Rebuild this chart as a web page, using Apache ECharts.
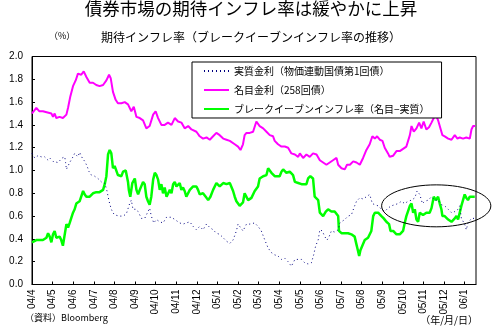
<!DOCTYPE html>
<html><head><meta charset="utf-8">
<script src="https://cdn.jsdelivr.net/npm/echarts@6/dist/echarts.min.js"></script>
<style>html,body{margin:0;padding:0;background:#fff}#c{width:502px;height:334px}</style>
</head><body><div id="c"></div>
<script>
// x = months since 2004/04/01
const monthLabels = ['04/4','04/5','04/6','04/7','04/8','04/9','04/10','04/11','04/12',
  '05/1','05/2','05/3','05/4','05/5','05/6','05/7','05/8','05/9','05/10','05/11','05/12','06/1'];
const yTicks = [0,0.2,0.4,0.6,0.8,1.0,1.2,1.4,1.6,1.8,2.0];

const seriesNames = ['実質金利（物価連動国債第1回債）','名目金利（258回債）','ブレークイーブンインフレ率（名目−実質）'];

// 名目金利 (258回債)
const nominalM = [0,0.21,0.35,0.53,0.94,1.02,1.10,1.18,1.34,1.50,
  1.67,1.75,1.86,1.99,2.12,2.23,2.39,2.51,2.64,2.80,
  2.96,3.12,3.28,3.45,3.61,3.74,3.82,3.93,4.06,4.17,
  4.34,4.50,4.66,4.82,4.94,5.07,5.23,5.39,5.55,5.71,
  5.88,6.00,6.12,6.28,6.44,6.60,6.77,6.93,7.09,7.25,
  7.41,7.58,7.74,7.98,8.14,8.30,8.47,8.63,8.79,8.95,
  9.11,9.28,9.44,9.60,9.84,10.00,10.12,10.24,10.32,10.41,
  10.57,10.73,10.89,11.05,11.22,11.38,11.54,11.70,11.78,11.94,
  12.11,12.27,12.43,12.59,12.76,12.92,13.00,13.16,13.32,13.48,
  13.64,13.81,13.97,14.13,14.29,14.45,14.61,14.78,14.86,15.02,
  15.18,15.29,15.43,15.59,15.75,15.91,16.07,16.23,16.39,16.52,
  16.64,16.75,16.88,17.01,17.12,17.28,17.36,17.53,17.69,17.85,
  18.01,18.17,18.34,18.42,18.53,18.66,18.79,18.90,19.01,19.14,
  19.27,19.39,19.50,19.60,19.71,19.79,19.92,20.03,20.20,20.36,
  20.52,20.65,20.76,20.92,21.08,21.25,21.33,21.41,21.51];
const nominal = [1.50,1.55,1.52,1.52,1.50,1.47,1.50,1.46,1.47,1.46,
  1.49,1.55,1.65,1.74,1.79,1.85,1.84,1.87,1.82,1.77,
  1.77,1.75,1.74,1.75,1.79,1.84,1.81,1.69,1.62,1.59,
  1.59,1.60,1.58,1.52,1.56,1.47,1.46,1.44,1.37,1.39,
  1.49,1.52,1.46,1.40,1.40,1.42,1.40,1.46,1.43,1.42,
  1.37,1.39,1.36,1.34,1.30,1.28,1.29,1.27,1.30,1.33,
  1.31,1.28,1.27,1.26,1.23,1.21,1.18,1.23,1.31,1.33,
  1.33,1.34,1.43,1.39,1.37,1.34,1.31,1.30,1.26,1.23,
  1.21,1.21,1.20,1.15,1.14,1.12,1.15,1.11,1.14,1.12,
  1.15,1.14,1.09,1.07,1.05,1.07,1.09,1.11,1.05,1.02,
  1.01,1.05,1.05,1.08,1.07,1.05,1.11,1.18,1.23,1.30,
  1.28,1.30,1.27,1.26,1.20,1.15,1.12,1.13,1.17,1.17,
  1.19,1.21,1.31,1.39,1.34,1.37,1.42,1.37,1.43,1.36,
  1.38,1.42,1.46,1.49,1.44,1.43,1.31,1.30,1.28,1.27,
  1.31,1.28,1.29,1.28,1.29,1.28,1.36,1.39,1.39];

// 実質金利 (物価連動国債第1回債) : [month, %]
const realPts = [[0,1.15],[0.13,1.11],[0.29,1.13],[0.45,1.12],[0.61,1.12],[0.78,1.09],[0.86,1.11],[0.94,1.12],
  [1.02,1.08],[1.26,1.07],[1.34,1.08],[1.47,1.11],[1.59,1.12],[1.63,1.07],[1.67,1.01],[1.75,1.04],[1.83,1.07],
  [1.99,1.12],[2.07,1.15],[2.23,1.12],[2.31,1.16],[2.44,1.11],[2.56,1.08],[2.67,1.04],[2.77,0.99],[2.88,0.96],
  [3.04,0.95],[3.20,0.93],[3.37,0.90],[3.53,0.89],[3.64,0.82],[3.74,0.73],[3.85,0.66],[3.93,0.63],[4.01,0.61],
  [4.09,0.60],[4.26,0.60],[4.42,0.60],[4.58,0.62],[4.74,0.71],[4.82,0.74],[4.90,0.66],[5.03,0.66],[5.15,0.64],
  [5.31,0.58],[5.47,0.58],[5.63,0.64],[5.71,0.67],[5.79,0.60],[5.91,0.54],[6.04,0.57],[6.20,0.55],[6.36,0.54],
  [6.53,0.59],[6.77,0.59],[7.01,0.56],[7.17,0.54],[7.33,0.53],[7.49,0.54],[7.66,0.55],[7.82,0.51],[7.98,0.48],
  [8.14,0.51],[8.30,0.48],[8.47,0.53],[8.63,0.50],[8.79,0.48],[8.95,0.45],[9.11,0.44],[9.28,0.41],[9.44,0.38],
  [9.60,0.36],[9.76,0.39],[9.92,0.47],[10.00,0.53],[10.08,0.52],[10.24,0.47],[10.41,0.53],[10.57,0.53],
  [10.65,0.53],[10.81,0.54],[10.97,0.51],[11.13,0.47],[11.30,0.39],[11.46,0.32],[11.62,0.28],[11.78,0.26],
  [11.94,0.25],[12.11,0.22],[12.27,0.23],[12.43,0.20],[12.59,0.16],[12.76,0.22],[12.92,0.22],[13.08,0.22],
  [13.24,0.19],[13.40,0.18],[13.56,0.19],[13.67,0.26],[13.77,0.34],[13.89,0.39],[13.97,0.48],[14.09,0.47],
  [14.21,0.42],[14.32,0.39],[14.42,0.42],[14.53,0.47],[14.69,0.46],[14.86,0.48],[14.94,0.54],[15.02,0.55],
  [15.18,0.57],[15.34,0.60],[15.50,0.61],[15.66,0.69],[15.75,0.73],[15.91,0.76],[16.07,0.75],[16.23,0.77],
  [16.39,0.79],[16.52,0.71],[16.64,0.70],[16.80,0.69],[16.96,0.66],[17.12,0.64],[17.28,0.67],[17.44,0.69],
  [17.61,0.70],[17.77,0.71],[17.93,0.73],[18.09,0.71],[18.25,0.73],[18.42,0.74],[18.58,0.76],[18.69,0.82],
  [18.82,0.79],[18.95,0.71],[19.06,0.73],[19.23,0.74],[19.39,0.77],[19.55,0.74],[19.71,0.74],[19.87,0.70],
  [20.03,0.69],[20.20,0.66],[20.36,0.63],[20.52,0.64],[20.68,0.66],[20.76,0.69],[20.84,0.58],[21.00,0.53],
  [21.08,0.48],[21.16,0.54],[21.33,0.58],[21.49,0.58]];

// ブレークイーブンインフレ率 (名目−実質) : [month, %]
const beiPts = [[0,0.37],[0.21,0.39],[0.37,0.39],[0.53,0.39],[0.70,0.41],[0.78,0.45],[0.86,0.42],[0.94,0.37],
  [1.02,0.44],[1.10,0.47],[1.18,0.41],[1.26,0.40],[1.34,0.42],[1.42,0.39],[1.50,0.34],[1.59,0.34],[1.67,0.53],
  [1.75,0.50],[1.83,0.54],[1.91,0.55],[1.99,0.63],[2.07,0.66],[2.15,0.71],[2.31,0.73],[2.48,0.82],[2.56,0.79],
  [2.64,0.77],[2.80,0.77],[2.96,0.80],[3.12,0.81],[3.28,0.81],[3.45,0.83],[3.53,0.88],[3.61,0.95],[3.69,1.14],
  [3.77,1.18],[3.85,1.15],[3.93,1.02],[4.01,1.04],[4.09,1.05],[4.17,0.96],[4.34,0.95],[4.42,0.99],[4.55,1.00],
  [4.66,0.90],[4.70,0.83],[4.77,0.77],[4.87,0.89],[4.99,0.93],[5.07,0.83],[5.15,0.79],[5.23,0.83],[5.39,0.90],
  [5.47,0.88],[5.55,0.77],[5.63,0.73],[5.71,0.70],[5.79,0.77],[5.88,0.92],[5.96,0.98],[6.04,0.96],[6.12,0.92],
  [6.20,0.83],[6.28,0.88],[6.36,0.80],[6.44,0.85],[6.53,0.77],[6.60,0.76],[6.69,0.83],[6.77,0.80],[6.85,0.88],
  [6.93,0.90],[7.01,0.86],[7.17,0.89],[7.25,0.83],[7.33,0.85],[7.41,0.82],[7.49,0.77],[7.66,0.83],[7.82,0.86],
  [7.98,0.86],[8.06,0.83],[8.14,0.79],[8.30,0.80],[8.47,0.76],[8.55,0.74],[8.66,0.77],[8.79,0.83],[8.95,0.89],
  [9.11,0.86],[9.28,0.89],[9.44,0.88],[9.60,0.89],[9.76,0.82],[9.84,0.77],[9.92,0.73],[10.08,0.69],[10.24,0.72],
  [10.32,0.80],[10.41,0.81],[10.49,0.74],[10.65,0.76],[10.81,0.82],[10.89,0.83],[10.97,0.86],[11.05,0.93],
  [11.22,0.95],[11.38,0.96],[11.46,1.02],[11.54,1.01],[11.62,0.98],[11.78,0.95],[11.86,0.96],[12.02,0.95],
  [12.11,0.99],[12.19,1.01],[12.35,0.98],[12.51,0.99],[12.67,0.96],[12.76,0.90],[12.92,0.89],[13.08,0.88],
  [13.16,0.89],[13.32,0.88],[13.40,0.93],[13.51,0.95],[13.64,0.93],[13.72,0.77],[13.89,0.74],[13.97,0.63],
  [14.13,0.60],[14.26,0.64],[14.37,0.66],[14.53,0.64],[14.69,0.64],[14.86,0.60],[14.90,0.47],[15.02,0.45],
  [15.18,0.45],[15.34,0.45],[15.50,0.44],[15.66,0.42],[15.75,0.35],[15.83,0.29],[15.88,0.25],[15.94,0.30],
  [16.03,0.29],[16.15,0.39],[16.31,0.41],[16.39,0.41],[16.47,0.47],[16.56,0.60],[16.64,0.63],[16.80,0.63],
  [16.96,0.60],[17.07,0.58],[17.20,0.55],[17.33,0.53],[17.40,0.47],[17.53,0.47],[17.69,0.44],[17.85,0.44],
  [18.01,0.47],[18.09,0.54],[18.17,0.60],[18.25,0.61],[18.34,0.69],[18.42,0.71],[18.50,0.63],[18.58,0.66],
  [18.66,0.57],[18.74,0.55],[18.82,0.63],[18.98,0.61],[19.14,0.63],[19.30,0.63],[19.39,0.67],[19.50,0.77],
  [19.60,0.74],[19.71,0.77],[19.79,0.71],[19.87,0.66],[19.92,0.60],[20.03,0.60],[20.20,0.57],[20.36,0.55],
  [20.52,0.58],[20.60,0.60],[20.68,0.57],[20.76,0.58],[20.84,0.69],[20.92,0.74],[21.00,0.79],[21.08,0.76],
  [21.16,0.74],[21.25,0.77],[21.33,0.77],[21.49,0.77]];

// highlighted region (ellipse annotation) in data units: centre month, centre %, half-width months, half-height %
const highlight = {m: 19.62, v: 0.69, rm: 2.65, rv: 0.184};

const numFont = 'Liberation Sans, Arial, sans-serif';
const jpFont = 'Noto Sans CJK JP, sans-serif';

const chart = echarts.init(document.getElementById('c'), null, {renderer: 'canvas'});
const option = {
  animation: false,
  backgroundColor: '#fff',
  title: [
    {text: '債券市場の期待インフレ率は緩やかに上昇', left: 'center', top: 0, padding: 0,
     textStyle: {fontFamily: jpFont, fontSize: 17.5, fontWeight: 'normal', color: '#000'}},
    {text: '期待インフレ率（ブレークイーブンインフレ率の推移）', left: 'center', top: 31, padding: 0,
     textStyle: {fontFamily: jpFont, fontSize: 12, fontWeight: 'normal', color: '#000'}}
  ],
  grid: {left: 32, right: 26, top: 56.5, bottom: 49.5, show: true, borderColor: '#000', borderWidth: 1, containLabel: false},
  legend: {
    orient: 'vertical', left: 192, top: 62, itemGap: 9, itemWidth: 25, itemHeight: 10,
    padding: [4, 12, 4, 11], borderColor: '#000', borderWidth: 1, backgroundColor: '#fff',
    data: seriesNames,
    itemStyle: {opacity: 0},
    textStyle: {fontFamily: jpFont, fontSize: 10, color: '#000'}
  },
  xAxis: {
    type: 'value', min: 0, max: 21.55, interval: 1,
    axisLine: {lineStyle: {color: '#000'}},
    axisTick: {inside: true, length: 3, lineStyle: {color: '#000'}},
    splitLine: {show: false},
    axisLabel: {
      rotate: 90, margin: 5, fontFamily: numFont, fontSize: 10, color: '#000',
      showMaxLabel: false,
      formatter: v => {
        const r = Math.round(v);
        return Math.abs(v - r) < 1e-6 && monthLabels[r] !== undefined ? monthLabels[r] : '';
      }
    }
  },
  yAxis: {
    type: 'value', min: yTicks[0], max: yTicks[yTicks.length - 1], interval: 0.2,
    axisLine: {show: true, lineStyle: {color: '#000'}},
    axisTick: {show: true, inside: true, length: 3, lineStyle: {color: '#000'}},
    splitLine: {show: false},
    axisLabel: {margin: 9, fontFamily: numFont, fontSize: 10, color: '#000', formatter: v => v.toFixed(1)}
  },
  series: [
    {name: seriesNames[0], type: 'line', symbol: 'none', z: 4,
     data: realPts,
     lineStyle: {color: '#000080', width: 1, type: [1, 3]}, itemStyle: {color: '#000080'}},
    {name: seriesNames[1], type: 'line', symbol: 'none', z: 2,
     data: nominalM.map((m, i) => [m, nominal[i]]),
     lineStyle: {color: '#ff00ff', width: 2}, itemStyle: {color: '#ff00ff'}},
    {name: seriesNames[2], type: 'line', symbol: 'none', z: 3,
     data: beiPts,
     lineStyle: {color: '#00ff00', width: 2.5}, itemStyle: {color: '#00ff00'}}
  ]
};
chart.setOption(option);

const c = chart.convertToPixel({gridIndex: 0}, [highlight.m, highlight.v]);
const e = chart.convertToPixel({gridIndex: 0}, [highlight.m + highlight.rm, highlight.v + highlight.rv]);
chart.setOption({
  graphic: [
    {type: 'ellipse', shape: {cx: c[0], cy: c[1], rx: Math.abs(e[0] - c[0]), ry: Math.abs(c[1] - e[1])},
     style: {fill: 'none', stroke: '#000', lineWidth: 1}, z: 10, silent: true},
    {type: 'text', left: 49, top: 31, style: {text: '（%）', font: '9px ' + jpFont, fill: '#000'}},
    {type: 'text', left: 25, top: 313, style: {text: '（資料）Bloomberg', font: '9px ' + jpFont, fill: '#000'}},
    {type: 'text', right: 24, top: 315, style: {text: '（年/月/日）', font: '10px ' + jpFont, fill: '#000'}}
  ]
});
</script></body></html>
